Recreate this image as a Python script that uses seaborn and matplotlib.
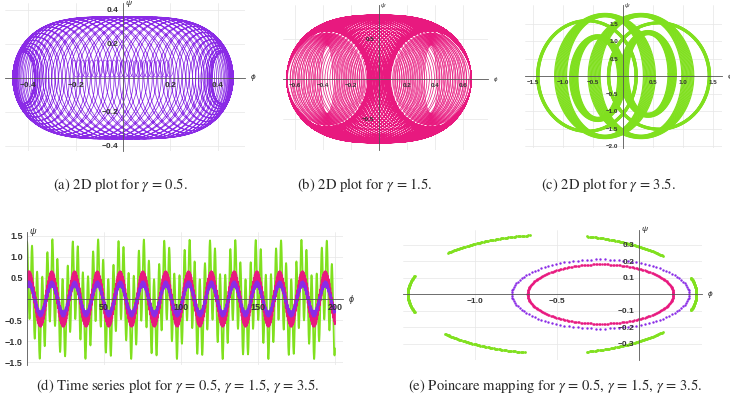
import numpy as np
import pandas as pd
import matplotlib
matplotlib.use("Agg")
import matplotlib.pyplot as plt
import seaborn as sns
from matplotlib.ticker import FixedLocator, MultipleLocator, FuncFormatter

PURPLE = "#8A2BE6"
PINK = "#E8197F"
GREEN = "#80E01E"

# (a), (b): loops whose centre swings between the two lobes
# shift, loop half-width / half-height (at lobe, in middle), loops per swing
a_shift, a_half_w, a_half_h, a_loops = 0.42, [0.045, 0.26], [0.15, 0.36], 84.5
a_power = [2, 4]
b_shift, b_half_w, b_half_h, b_loops = 0.37, [0.29, 0.66], [0.60, 0.80], 118.5
b_power = [1, 3]
# small loops along the phi axis in (a)
a_band_x = [-0.21, 0.20]
a_band_y = 0.055
a_band_half = [0.014, 0.05]
a_band_loops = 22
# nested rings inside each lobe of (b)
b_lobe_x = [-0.37, 0.37]
b_ring_w = [0.04, 0.27]
b_ring_h = [0.42, 0.58]
b_ring_turns = 18

# (c): bands of ellipses
c_cx = [-0.60, 0.60, -0.30, 0.30, -0.42, 0.42]
c_cy = [0.0, 0.0, 0.0, 0.0, -0.06, 0.06]
c_rx = [0.82, 0.84, 0.74, 0.78, 0.40, 0.40]
c_ry = [1.58, 1.52, 1.74, 1.74, 1.18, 1.18]
c_spread_x = [0.02, 0.02, 0.10, 0.10, 0.07, 0.07]
c_spread_y = [0.03, 0.03, 0.05, 0.05, 0.06, 0.06]

# (d): time series, gamma = 0.5, 1.5, 3.5
ts_gamma = ["0.5", "1.5", "3.5"]
ts_slow_amp = [0.36, 0.50, 0.48]
ts_fast_amp = [0.06, 0.16, 0.95]
ts_fast_period = [0.9, 0.55, 3.3]
ts_slow_period = 14.8
ts_first_peak = 1.3
ts_colors = [PURPLE, PINK, GREEN]
ts_widths = [1.6, 1.4, 1.3]

# (e): Poincare sections
pm_cx = [-0.235, -0.235, -0.53]
pm_rx = [0.54, 0.445, 0.88]
pm_ry = [0.21, 0.18, 0.36]
pm_count = [120, 300]
pm_green_arcs = [(-16, 16), (40, 76), (99, 136), (162, 198), (222, 259), (284, 320)]

sns.set_style("white")
plt.rcParams["font.family"] = ["Liberation Sans", "DejaVu Sans"]
plt.rcParams["mathtext.fontset"] = "stix"

W, H = 730, 408
fig = plt.figure(figsize=(W / 100, H / 100), dpi=100)


def box(l, t, r, b):
    return fig.add_axes([l / W, 1 - b / H, (r - l) / W, (b - t) / H])


def minus(v, pos):
    return ("%.1f" % v).replace("-", "\u2212")


def mathematica_axes(ax, xlim, ylim, xt, yt, fs, xminor=None, yminor=None, xfmt=minus):
    ax.set_xlim(*xlim)
    ax.set_ylim(*ylim)
    ax.patch.set_alpha(0)
    ax.set_axisbelow(False)
    for s in ("top", "right"):
        ax.spines[s].set_visible(False)
    for s in ("left", "bottom"):
        ax.spines[s].set_position(("data", 0))
        ax.spines[s].set_color("#555")
        ax.spines[s].set_linewidth(0.6)
        ax.spines[s].set_zorder(5)
    ax.xaxis.set_major_locator(FixedLocator(xt))
    ax.yaxis.set_major_locator(FixedLocator(yt))
    ax.xaxis.set_major_formatter(FuncFormatter(xfmt))
    ax.yaxis.set_major_formatter(FuncFormatter(minus))
    if xminor:
        ax.xaxis.set_minor_locator(MultipleLocator(xminor))
    if yminor:
        ax.yaxis.set_minor_locator(MultipleLocator(yminor))
    ax.tick_params(which="major", length=2.2, width=0.5, color="#555", labelsize=fs, pad=1)
    ax.tick_params(which="minor", length=1.2, width=0.4, color="#777")
    for lab in ax.get_xticklabels() + ax.get_yticklabels():
        lab.set_fontweight("bold")
        lab.set_color("#333")
    for v in xt:
        ax.axvline(v, color="#e6e6e6", lw=0.5, zorder=0)
    for v in yt:
        ax.axhline(v, color="#e6e6e6", lw=0.5, zorder=0)
    ax.set_xlabel("")
    ax.set_ylabel("")
    ax.annotate("\u03d5", xy=(xlim[1], 0), xytext=(4, 0), textcoords="offset points",
                ha="left", va="center", fontsize=fs, style="italic", annotation_clip=False)
    ax.annotate("\u03c8", xy=(0, ylim[1]), xytext=(1.5, 0), textcoords="offset points",
                ha="left", va="center", fontsize=fs, style="italic", annotation_clip=False)


def coil(shift, half_w, half_h, loops, power, per_loop=80):
    t = np.linspace(0, 2 * np.pi * loops, int(loops * per_loop))
    c = np.abs(np.cos(t / loops))
    rx = half_w[1] - (half_w[1] - half_w[0]) * c ** power[0]
    ry = half_h[1] - (half_h[1] - half_h[0]) * c ** power[1]
    return shift * np.cos(t / loops) + rx * np.cos(t), ry * np.sin(t)


def spiral(cx, rw, rh, turns, per_turn=90):
    t = np.linspace(0, 2 * np.pi * turns, turns * per_turn)
    s = t / t[-1]
    return cx + (rw[0] + (rw[1] - rw[0]) * s) * np.cos(t), (rh[0] + (rh[1] - rh[0]) * s) * np.sin(t)


# (a)
ax = box(5, 3, 245, 151)
xa, ya = coil(a_shift, a_half_w, a_half_h, a_loops, a_power)
sns.lineplot(x=xa, y=ya, sort=False, estimator=None, color=PURPLE, lw=0.55, ax=ax)
tb = np.linspace(0, 2 * np.pi * a_band_loops, a_band_loops * 40)
sweep = a_band_x[0] + (a_band_x[1] - a_band_x[0]) * tb / tb[-1]
sns.lineplot(x=sweep + a_band_half[0] * np.cos(tb), y=a_band_y + a_band_half[1] * np.sin(tb),
             sort=False, estimator=None, color=PURPLE, lw=0.45, ax=ax)
mathematica_axes(ax, (-0.498, 0.515), (-0.43, 0.44), [-0.4, -0.2, 0.2, 0.4], [-0.4, -0.2, 0.2, 0.4], 6,
                 xminor=0.05, yminor=0.05)

# (b)
ax = box(283, 5, 488, 150)
for cx in b_lobe_x:
    xs, ys = spiral(cx, b_ring_w, b_ring_h, b_ring_turns)
    sns.lineplot(x=xs, y=ys, sort=False, estimator=None, color=PINK, lw=0.5, ax=ax)
xb, yb = coil(b_shift, b_half_w, b_half_h, b_loops, b_power)
sns.lineplot(x=xb, y=yb, sort=False, estimator=None, color=PINK, lw=0.5, ax=ax)
mathematica_axes(ax, (-0.686, 0.779), (-0.8875, 0.925), [-0.6, -0.4, -0.2, 0.2, 0.4, 0.6], [-0.5, 0.5], 4.5,
                 xminor=0.05, yminor=0.1)

# (c)
ax = box(525, 5, 722, 148)
rows = []
theta = np.linspace(0, 2 * np.pi, 240)
for k in range(len(c_cx)):
    for j, s in enumerate(np.linspace(-1, 1, 16)):
        rows.append(pd.DataFrame({
            "x": c_cx[k] + (c_rx[k] + c_spread_x[k] * s) * np.cos(theta),
            "y": c_cy[k] + (c_ry[k] + c_spread_y[k] * s) * np.sin(theta),
            "loop": k * 100 + j}))
rings = pd.concat(rows, ignore_index=True)
sns.lineplot(data=rings, x="x", y="y", units="loop", estimator=None, sort=False, color=GREEN, lw=0.8, ax=ax)
mathematica_axes(ax, (-1.633, 1.65), (-2.057, 2.029), [-1.5, -1.0, -0.5, 0.5, 1.0, 1.5],
                 [-2.0, -1.5, -1.0, -0.5, 0.5, 1.0, 1.5], 4.5, xminor=0.1, yminor=0.1)

# (d)
ax = box(27, 232, 343, 365)
phi = np.linspace(0, 200, 8000)
for i in (2, 1, 0):
    psi = (ts_slow_amp[i] * np.cos(2 * np.pi * (phi - ts_first_peak) / ts_slow_period)
           + ts_fast_amp[i] * np.cos(2 * np.pi * phi / ts_fast_period[i]))
    sns.lineplot(x=phi, y=psi, sort=False, estimator=None, color=ts_colors[i], lw=ts_widths[i], ax=ax)
mathematica_axes(ax, (0, 205.2), (-1.571, 1.595), [50, 100, 150, 200], [-1.5, -1.0, -0.5, 0.5, 1.0, 1.5], 6.5,
                 xminor=10, yminor=0.1, xfmt=lambda v, p: "%d" % v)

# (e)
ax = box(403, 230, 702, 360)
arc = np.concatenate([np.linspace(a0, a1, 70) for a0, a1 in pm_green_arcs])
sns.scatterplot(x=pm_cx[2] + pm_rx[2] * np.cos(np.radians(arc)), y=pm_ry[2] * np.sin(np.radians(arc)),
                color=GREEN, s=4, linewidth=0, ax=ax)
for i, col in ((0, PURPLE), (1, PINK)):
    th = np.linspace(0, 2 * np.pi, pm_count[i], endpoint=False)
    sns.scatterplot(x=pm_cx[i] + pm_rx[i] * np.cos(th), y=pm_ry[i] * np.sin(th),
                    color=col, s=3, linewidth=0, ax=ax)
mathematica_axes(ax, (-1.439, 0.384), (-0.4, 0.388), [-1.0, -0.5], [-0.3, -0.2, -0.1, 0.1, 0.2, 0.3], 6,
                 xminor=0.1, yminor=0.02)

captions = [
    (120, 185, r"(a) 2D plot for $\gamma$ = 0.5."),
    (365, 185, r"(b) 2D plot for $\gamma$ = 1.5."),
    (608, 185, r"(c) 2D plot for $\gamma$ = 3.5."),
    (178, 386, r"(d) Time series plot for $\gamma$ = 0.5, $\gamma$ = 1.5, $\gamma$ = 3.5."),
    (555, 386, r"(e) Poincare mapping for $\gamma$ = 0.5, $\gamma$ = 1.5, $\gamma$ = 3.5."),
]
for x, y, txt in captions:
    fig.text(x / W, 1 - y / H, txt, ha="center", va="center", fontsize=10.5, family="STIXGeneral")

fig.savefig("out.png", dpi=100)
